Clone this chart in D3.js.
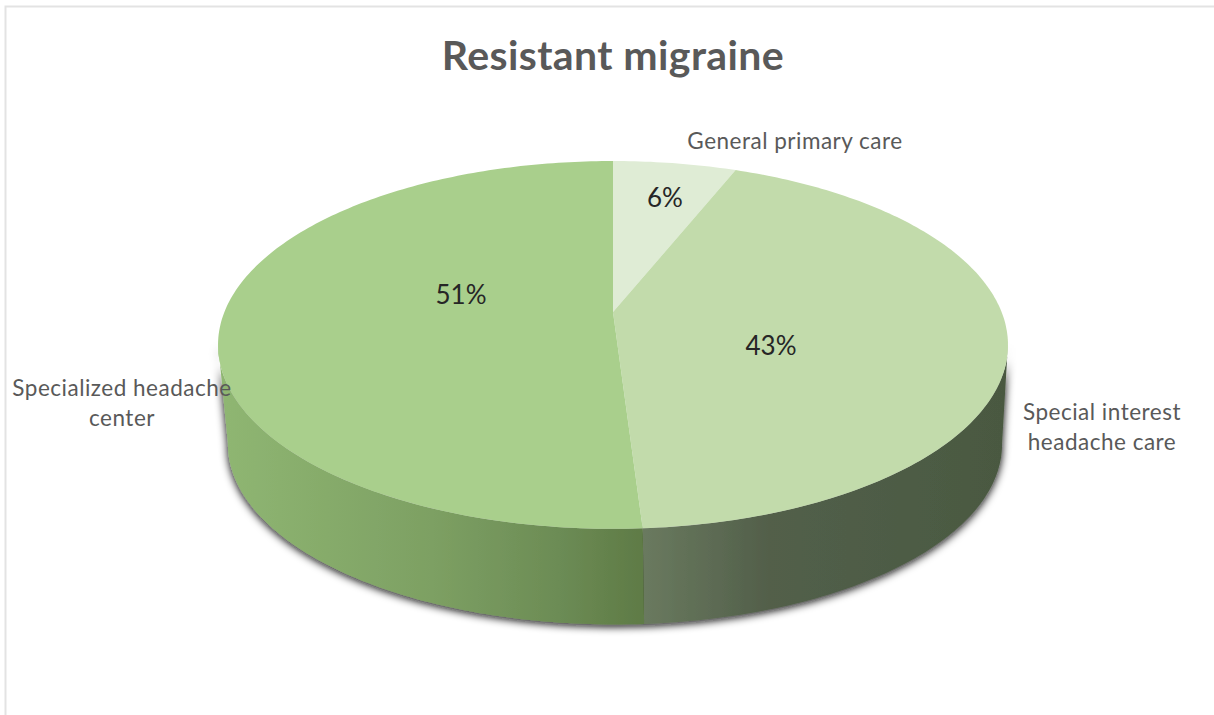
<!DOCTYPE html>
<html>
<head>
<meta charset="utf-8">
<script src="https://cdn.jsdelivr.net/npm/d3@7"></script>
<style>
  html, body { margin: 0; padding: 0; background: #fff; }
  svg { display: block; }
  text { font-family: Lato, "Open Sans", sans-serif; }
</style>
</head>
<body>
<svg id="chart" width="1214" height="715"></svg>
<script>
const chartTitle = "Resistant migraine";
const categories = ["General primary care", "Special interest headache care", "Specialized headache center"];
const shares = [6, 43, 51];
const topColors = ["#dfecd5", "#c2dbab", "#a9cf8c"];

const width = 1214, height = 715;
const svg = d3.select("#chart");

// pie is tilted with a bit of perspective, so the hub sits above the ellipse middle
const cx = 613, cy = 312, rx = 388.6, ry = 178, persp = 0.179;
const depth = 100, bottomScale = 0.98, bottomShift = 2;

function rim(angle, level) {
  const u = Math.sin(angle), v = Math.cos(angle), d = 1 + persp * v;
  const s = level ? bottomScale : 1;
  return [
    cx + (level ? bottomShift : 0) + s * rx * u / d,
    cy + (level ? depth : 0) - s * ry * v / d
  ];
}

const arcs = d3.pie().sort(null).value(d => d)(shares);
const line = d3.line();

function arcPoints(a0, a1, level) {
  const n = Math.max(2, Math.ceil((a1 - a0) * 60));
  return d3.range(n + 1).map(i => rim(a0 + (a1 - a0) * i / n, level));
}

// frame
svg.append("path")
  .attr("d", `M5.5,${height}V6.5H${width}`)
  .attr("fill", "none")
  .attr("stroke", "#e3e3e3")
  .attr("stroke-width", 2);

const defs = svg.append("defs");

const shadow = defs.append("filter").attr("id", "wallShadow")
  .attr("x", "-5%").attr("y", "-10%").attr("width", "110%").attr("height", "125%");
shadow.append("feDropShadow")
  .attr("dx", 0).attr("dy", 2)
  .attr("stdDeviation", 4.5)
  .attr("flood-color", "#111")
  .attr("flood-opacity", 1);

const wallGradients = [
  null,
  { id: "wallRight", x1: 642, x2: 1005, stops: [[0, "#6a7a5f"], [0.35, "#525f4a"], [1, "#4a5941"]] },
  { id: "wallLeft", x1: 222, x2: 642, stops: [[0, "#8fb672"], [0.5, "#7da063"], [0.8, "#6c8c55"], [1, "#5f7b46"]] }
];

wallGradients.filter(g => g).forEach(g => {
  const grad = defs.append("linearGradient")
    .attr("id", g.id)
    .attr("gradientUnits", "userSpaceOnUse")
    .attr("x1", g.x1).attr("x2", g.x2).attr("y1", 0).attr("y2", 0);
  g.stops.forEach(s => grad.append("stop").attr("offset", s[0]).attr("stop-color", s[1]));
});

// walls: only the front part of the rim shows
const frontStart = 100 * Math.PI / 180, frontEnd = 260 * Math.PI / 180;
const walls = svg.append("g").attr("filter", "url(#wallShadow)");

arcs.forEach((a, i) => {
  const a0 = Math.max(a.startAngle, frontStart), a1 = Math.min(a.endAngle, frontEnd);
  if (a1 <= a0) return;
  const pts = arcPoints(a0, a1, 0).concat(arcPoints(a0, a1, 1).reverse());
  walls.append("path")
    .attr("d", line(pts) + "Z")
    .attr("fill", `url(#${wallGradients[i].id})`);
});

// top face
svg.append("g").selectAll("path")
  .data(arcs)
  .join("path")
  .attr("d", d => line([[cx, cy]].concat(arcPoints(d.startAngle, d.endAngle, 0))) + "Z")
  .attr("fill", (d, i) => topColors[i]);

// title
svg.append("text")
  .attr("x", 613).attr("y", 70)
  .attr("text-anchor", "middle")
  .attr("font-size", 41)
  .attr("letter-spacing", 0.4)
  .attr("font-weight", 700)
  .attr("fill", "#595959")
  .text(chartTitle);

// percentages
const pctAt = [[665, 207], [771, 355], [461, 304]];
svg.append("g").selectAll("text")
  .data(shares)
  .join("text")
  .attr("x", (d, i) => pctAt[i][0])
  .attr("y", (d, i) => pctAt[i][1])
  .attr("text-anchor", "middle")
  .attr("font-size", 26)
  .attr("fill", "#262626")
  .text(d => d + "%");

// category labels, wrapped by hand like the original
const labelLines = [
  { x: 795, y: 149, lines: [categories[0]] },
  { x: 1102, y: 420, lines: ["Special interest", "headache care"] },
  { x: 122, y: 396, lines: ["Specialized headache", "center"] }
];
labelLines.forEach(l => {
  const t = svg.append("text")
    .attr("text-anchor", "middle")
    .attr("font-size", 22.5)
    .attr("letter-spacing", 0.5)
    .attr("fill", "#595959");
  l.lines.forEach((s, i) => {
    t.append("tspan").attr("x", l.x).attr("y", l.y + i * 30).text(s);
  });
});
</script>
</body>
</html>
